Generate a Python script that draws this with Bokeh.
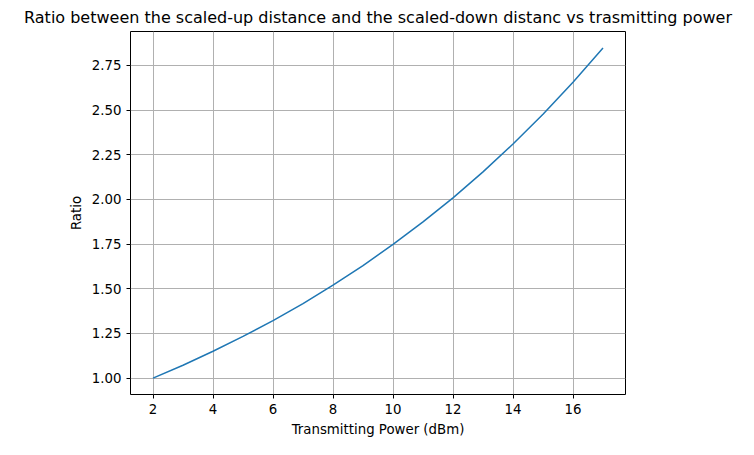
from bokeh.plotting import figure
from bokeh.models import FixedTicker, NumeralTickFormatter, Range1d
from bokeh.embed import file_html
from bokeh.resources import INLINE

power_dbm = [2, 3, 4, 5, 6, 7, 8, 9, 10, 11, 12, 13, 14, 15, 16, 17]
ratio = [1.000, 1.072, 1.150, 1.233, 1.322, 1.417, 1.520, 1.630,
         1.748, 1.874, 2.009, 2.154, 2.310, 2.477, 2.656, 2.848]
x_ticks = [2, 4, 6, 8, 10, 12, 14, 16]
y_ticks = [1.0, 1.25, 1.5, 1.75, 2.0, 2.25, 2.5, 2.75]

p = figure(width=738, height=439, output_backend="svg", toolbar_location=None,
           x_range=Range1d(1.25, 17.75), y_range=Range1d(0.908, 2.940),
           title="Ratio between the scaled-up distance and the scaled-down distanc vs trasmitting power",
           x_axis_label="Transmitting Power (dBm)", y_axis_label="Ratio",
           min_border_left=130, min_border_right=113, min_border_bottom=37, min_border_top=4)
p.line(power_dbm, ratio, line_color="#1f77b4", line_width=1.5)

p.title.align = "center"
p.title.text_font = "DejaVu Sans"
p.title.text_font_size = "12pt"
p.title.text_font_style = "normal"
p.title.text_color = "black"
p.outline_line_color = "black"
for ax in (p.xaxis, p.yaxis):
    ax.axis_label_text_font = "DejaVu Sans"
    ax.axis_label_text_font_size = "10pt"
    ax.axis_label_text_font_style = "normal"
    ax.axis_label_text_color = "black"
    ax.major_label_text_font = "DejaVu Sans"
    ax.major_label_text_font_size = "10pt"
    ax.major_label_text_color = "black"
    ax.minor_tick_line_color = None
    ax.axis_line_color = None
    ax.major_tick_line_color = "black"
    ax.major_tick_out = 4
    ax.major_tick_in = 0
p.xaxis.ticker = FixedTicker(ticks=x_ticks)
p.yaxis.ticker = FixedTicker(ticks=y_ticks)
p.yaxis.formatter = NumeralTickFormatter(format="0.00")
p.grid.grid_line_color = "#b0b0b0"
p.grid.grid_line_width = 1

open("out.html", "w").write(file_html(p, INLINE))
